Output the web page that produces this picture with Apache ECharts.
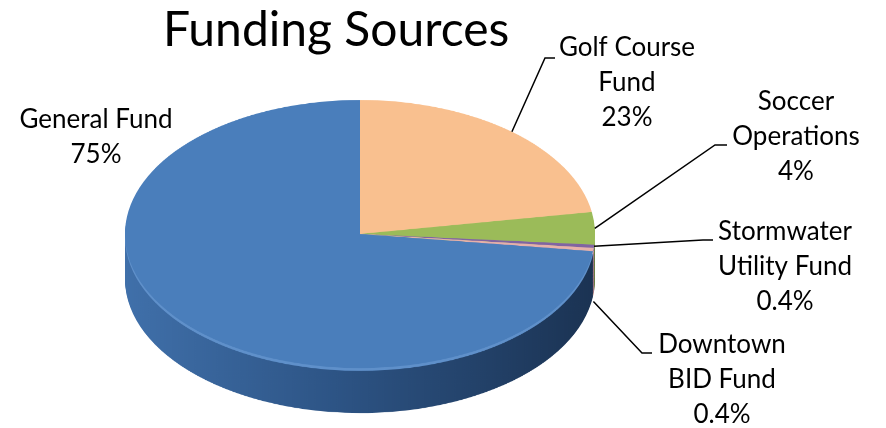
<!DOCTYPE html>
<html>
<head>
<meta charset="utf-8">
<script src="https://cdn.jsdelivr.net/npm/echarts@6/dist/echarts.min.js"></script>
<style>
    html, body { margin: 0; padding: 0; background: #fff; overflow: hidden; }
    #wrap { position: relative; width: 886px; height: 428px; overflow: hidden; }
    #pie3d { position: absolute; left: 0; top: 0; width: 886px; transform-origin: 0 0; }
    #chartmain { position: absolute; left: 0; top: 0; width: 886px; height: 428px; }
</style>
</head>
<body>
<div id="wrap">
    <div id="pie3d"></div>
    <div id="chartmain"></div>
</div>
<script>
// data, clockwise from 12 o'clock
var names = ['Golf Course Fund', 'Soccer Operations', 'Stormwater Utility Fund', 'Downtown BID Fund', 'General Fund'];
var values = [23, 4, 0.4, 0.4, 75];
var labelText = ['Golf Course\nFund', 'Soccer\nOperations', 'Stormwater\nUtility Fund', 'Downtown\nBID Fund', 'General Fund'];

// colours
var topColors = ['#F9C08F', '#9BBB59', '#8064A2', '#E6B0AA', '#4A7EBB'];
var rimColors = ['#FBD0A8', '#ACC872', '#9580B5', '#EEC4BF', '#5F90CA'];
var sideBlue = new echarts.graphic.LinearGradient(0, 0, 1, 0, [
    {offset: 0, color: '#4070AA'},
    {offset: 0.45, color: '#2D5485'},
    {offset: 1, color: '#1B3353'}
]);
var sideColors = ['#C8915E', '#6F8A3B', '#5B4680', '#B88984', sideBlue];

// geometry of the tilted pie (screen px)
var pieCx = 360, topCy = 234, rx = 235, ry = 134, depth = 45;
var tilt = ry / rx;

// label layout: text centre x, top of first line, leader elbow/end, drop onto the side wall
var labelLayout = [
    {x: 627, y: 30, elbow: [545, 58], end: [555, 58], drop: 0},
    {x: 796, y: 84, elbow: [715, 145], end: [727, 145], drop: 0},
    {x: 785, y: 214, elbow: [703, 240], end: [713, 240], drop: 0},
    {x: 722, y: 327, elbow: [642, 353], end: [652, 353], drop: 52},
    {x: 96, y: 102, elbow: null, end: null, drop: 0}
];

var font = 'Lato, "Open Sans", sans-serif';

function pieLayer(off, cols) {
    return {
        type: 'pie',
        silent: true,
        animation: false,
        center: [pieCx, topCy / tilt + off],
        radius: rx,
        startAngle: 90,
        clockwise: true,
        label: {show: false},
        labelLine: {show: false},
        emphasis: {disabled: true},
        itemStyle: {borderWidth: 0},
        data: values.map(function (v, i) {
            return {value: v, name: names[i], itemStyle: {color: cols[i]}};
        })
    };
}

// body of the pie, drawn round and squashed vertically
var bodyEl = document.getElementById('pie3d');
bodyEl.style.height = Math.ceil((topCy + ry + depth + 20) / tilt) + 'px';
bodyEl.style.transform = 'scaleY(' + tilt + ')';

var series = [];
var depthU = depth / tilt;
for (var off = depthU; off > 5; off -= 2.5) {
    series.push(pieLayer(off, sideColors));
}
series.push(pieLayer(5, rimColors));
series.push(pieLayer(0, topColors));

var bodyChart = echarts.init(bodyEl);
bodyChart.setOption({animation: false, series: series});

// labels and leader lines
var total = values.reduce(function (a, b) { return a + b; }, 0);
var graphic = [];
var acc = 0;
for (var i = 0; i < values.length; i++) {
    var mid = (acc + values[i] / 2) / total * 2 * Math.PI;
    acc += values[i];
    var lay = labelLayout[i];
    var ax = pieCx + rx * Math.sin(mid);
    var ay = topCy - ry * Math.cos(mid) + lay.drop;
    if (lay.elbow) {
        graphic.push({
            type: 'polyline',
            silent: true,
            shape: {points: [[ax, ay], lay.elbow, lay.end]},
            style: {stroke: '#000', lineWidth: 1.5, fill: null}
        });
    }
    graphic.push({
        type: 'text',
        silent: true,
        style: {
            text: labelText[i] + '\n' + values[i] + '%',
            x: lay.x,
            y: lay.y,
            align: 'center',
            verticalAlign: 'top',
            font: '26px ' + font,
            lineHeight: 35,
            fill: '#000'
        }
    });
}

var myChart = echarts.init(document.getElementById('chartmain'));
myChart.setOption({
    animation: false,
    title: {
        text: 'Funding Sources',
        left: 158,
        top: 2,
        textStyle: {fontFamily: font, fontSize: 48, fontWeight: 'normal', color: '#000'}
    },
    graphic: graphic
});
</script>
</body>
</html>
